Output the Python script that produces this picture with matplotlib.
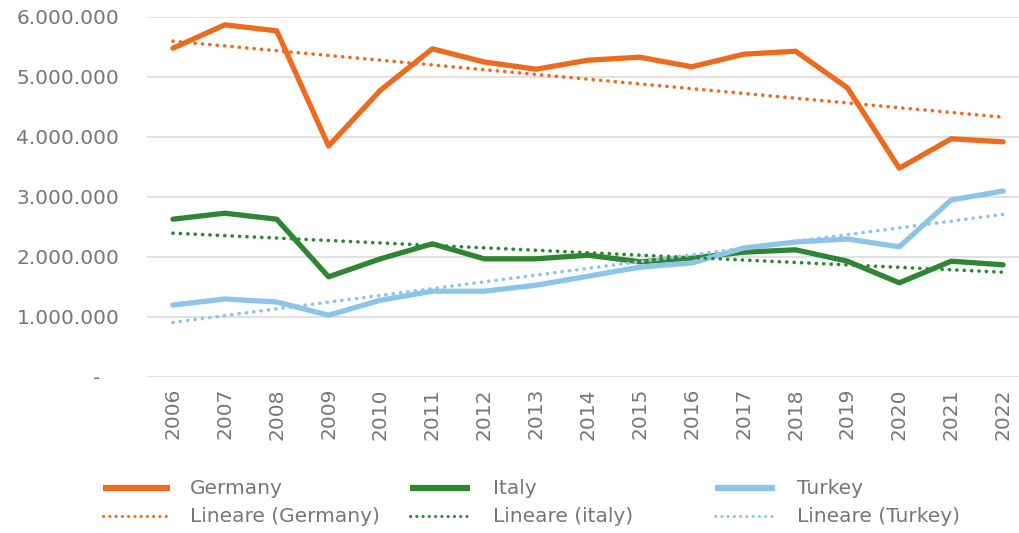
import numpy as np
import matplotlib
matplotlib.use("Agg")
import matplotlib.pyplot as plt
from matplotlib.lines import Line2D
from matplotlib.ticker import FuncFormatter

years = [str(y) for y in range(2006, 2023)]
germany = [5480000, 5870000, 5770000, 3850000, 4780000, 5470000, 5250000, 5130000, 5280000,
           5330000, 5170000, 5380000, 5430000, 4820000, 3480000, 3970000, 3920000]
italy = [2630000, 2730000, 2630000, 1670000, 1970000, 2220000, 1970000, 1970000, 2030000,
         1920000, 1980000, 2080000, 2120000, 1930000, 1570000, 1930000, 1870000]
turkey = [1200000, 1300000, 1250000, 1030000, 1280000, 1430000, 1430000, 1530000, 1680000,
          1830000, 1900000, 2150000, 2250000, 2300000, 2170000, 2950000, 3100000]
labels = ["Germany", "Italy", "Turkey"]
trend_labels = ["Lineare (Germany)", "Lineare (italy)", "Lineare (Turkey)"]
colors = ["#EC6B1E", "#2E8633", "#8CC5E9"]
yticks = [0, 1000000, 2000000, 3000000, 4000000, 5000000, 6000000]

plt.rcParams['font.family'] = ['DejaVu Sans']
text_color = "#767676"

fig = plt.figure(figsize=(10.20, 5.33), dpi=100)
W, H = 1020, 533
ax = fig.add_axes([147 / W, (H - 377) / H, (1029 - 147) / W, 360 / H])

x = np.arange(len(years))
series = [germany, italy, turkey]
dotted = (0, (0.05, 2.0))
for vals, c in zip(series, colors):
    ax.plot(x, vals, color=c, lw=3.8, solid_joinstyle='round', solid_capstyle='round', zorder=3)
for vals, c in zip(series, colors):
    k, b = np.polyfit(x, vals, 1)
    ax.plot(x, k * x + b, color=c, lw=2.6, linestyle=dotted, dash_capstyle='round', zorder=4)

ax.set_xlim(-0.5, len(years) - 0.5)
ax.set_ylim(0, 6000000)
ax.set_yticks(yticks)
ax.yaxis.set_major_formatter(FuncFormatter(lambda v, p: "-   " if v == 0 else f"{int(v):,}".replace(",", ".")))
ax.set_xticks(x)
ax.set_xticklabels(years, rotation=90)
ax.grid(axis='y', color="#DEDEDE", lw=1.3)
ax.set_axisbelow(True)
for s in ax.spines.values():
    s.set_visible(False)
ax.tick_params(length=0, labelsize=14.5, labelcolor=text_color)
ax.tick_params(axis='y', pad=20)
ax.tick_params(axis='x', pad=8)

# legend drawn manually
col_handle = [(103, 170), (410, 470), (715, 775)]
col_text = [190, 493, 797]
rows = [488, 516]
for i in range(3):
    x0, x1 = col_handle[i]
    fig.add_artist(Line2D([x0 / W, x1 / W], [1 - rows[0] / H] * 2, color=colors[i], lw=4.5,
                          solid_capstyle='butt', transform=fig.transFigure))
    fig.add_artist(Line2D([x0 / W, x1 / W], [1 - rows[1] / H] * 2, color=colors[i], lw=2.2,
                          linestyle=(0, (0.05, 2.0)), dash_capstyle='round', transform=fig.transFigure))
    fig.text(col_text[i] / W, 1 - rows[0] / H, labels[i], color=text_color, fontsize=14.5, va='center')
    fig.text(col_text[i] / W, 1 - rows[1] / H, trend_labels[i], color=text_color, fontsize=14.5, va='center')

fig.savefig("out.png", dpi=100)
